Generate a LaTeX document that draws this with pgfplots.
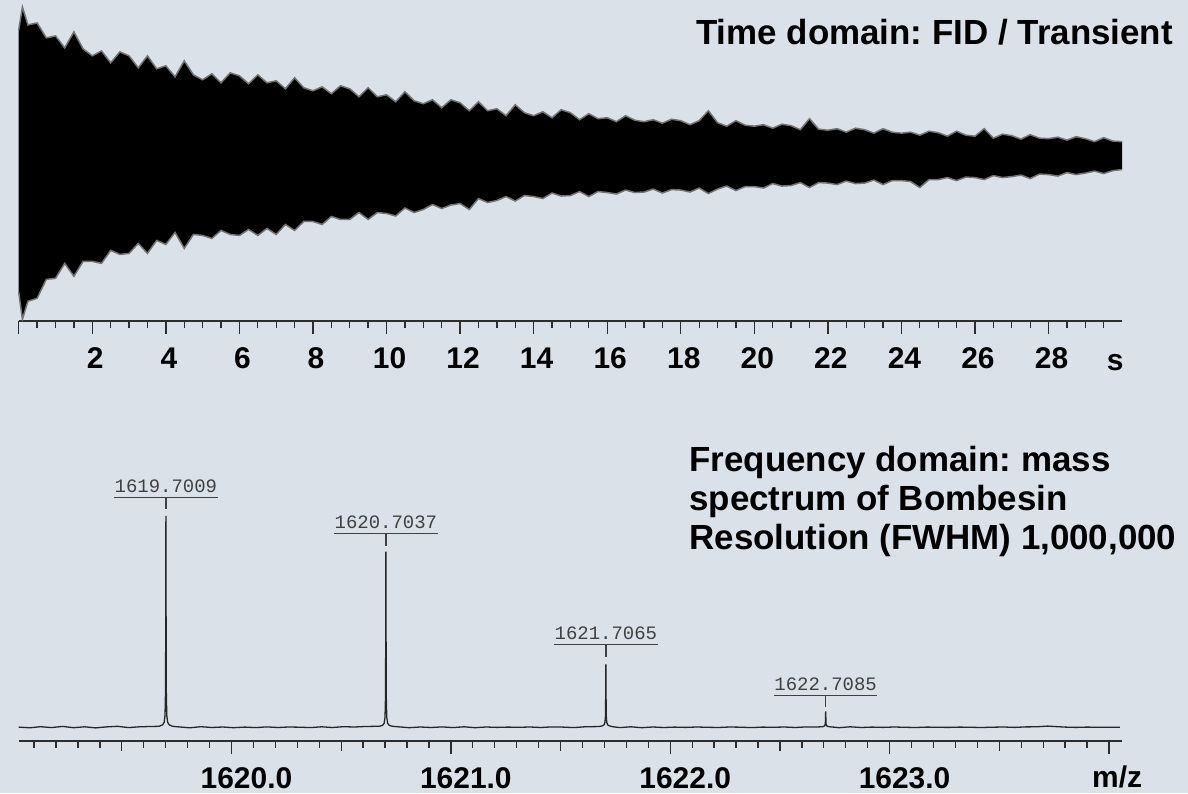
\documentclass[border=0pt]{standalone}
\usepackage{fontspec}
\setmainfont{Liberation Sans}
\newfontfamily\monof{Liberation Mono}
\usepackage{pgfplots}
\pgfplotsset{compat=1.18}
\usepgfplotslibrary{fillbetween}
\definecolor{bgc}{RGB}{218,225,232}
\definecolor{axc}{RGB}{45,45,45}
\frenchspacing
\begin{document}
\pagecolor{bgc}
\begin{tikzpicture}[x=1pt,y=1pt]
\path (0,0) rectangle (1188,795);
% ---------- time domain ----------
\begin{axis}[at={(16pt,473pt)}, anchor=south west, scale only axis,
  width=1106pt, height=322pt, xmin=0, xmax=30, ymin=-165, ymax=157,
  axis x line=bottom, axis y line=none, clip=false,
  axis line style={draw=axc, line width=1.6pt, -},
  xtick={0,2,...,28}, xticklabels={,2,4,6,8,10,12,14,16,18,20,22,24,26,28},
  minor xtick={0.5,1,...,29.5},
  tick align=outside, major tick length=13pt, minor tick length=6.5pt,
  every tick/.style={draw=axc, line width=1.3pt},
  xticklabel style={font=\bfseries\fontsize{30}{36}\selectfont, anchor=base, inner sep=0pt, yshift=-34pt, xshift=3pt},
  ]
\addplot[name path=top, draw=black!55, line width=1.5pt] coordinates {
(0,127)(0.1,150)(0.25,132)(0.5,134)(0.75,119)(1,121)(1.25,109)(1.5,125)(1.75,108)(2,101)(2.25,106)(2.5,94)(2.75,105)(3,101)(3.25,89)(3.5,101)(3.75,88)(4,91)(4.25,80)(4.5,96)(4.75,82)(5,77)(5.25,83)(5.5,74)(5.75,84)(6,81)(6.25,73)(6.5,82)(6.75,74)(7,76)(7.25,68)(7.5,79)(7.75,69)(8,66)(8.25,70)(8.5,63)(8.75,71)(9,68)(9.25,60)(9.5,69)(9.75,60)(10,62)(10.25,55)(10.5,65)(10.75,56)(11,53)(11.25,57)(11.5,49)(11.75,57)(12,54)(12.25,46)(12.5,55)(12.75,46)(13,48)(13.25,41)(13.5,52)(13.75,44)(14,41)(14.25,45)(14.5,39)(14.75,47)(15,44)(15.25,37)(15.5,43)(15.75,38)(16,39)(16.25,35)(16.5,41)(16.75,36.5)(17,35)(17.25,37)(17.5,33.5)(17.75,37.5)(18,36)(18.25,32)(18.5,36)(18.75,46)(19,34)(19.25,30.5)(19.5,36)(19.75,31.5)(20,30.5)(20.25,32)(20.5,28.5)(20.75,32.5)(21,31)(21.25,27)(21.5,38)(21.75,27.5)(22,26.5)(22.25,28)(22.5,24.5)(22.75,28.5)(23,27)(23.25,23.5)(23.5,28)(23.75,24.5)(24,23.5)(24.25,24.5)(24.5,21.5)(24.75,25.5)(25,24)(25.25,20.5)(25.5,25.5)(25.75,21.5)(26,20.5)(26.25,28)(26.5,18.5)(26.75,22.5)(27,21)(27.25,17.5)(27.5,22)(27.75,18.5)(28,18)(28.25,19.5)(28.5,16.5)(28.75,20)(29,18)(29.25,15)(29.5,19)(29.75,15.5)(30,15)
};
\addplot[name path=bot, draw=black!55, line width=1.5pt] coordinates {
(0,-136)(0.1,-163)(0.25,-145)(0.5,-142)(0.75,-123)(1,-122)(1.25,-107)(1.5,-120)(1.75,-105)(2,-105)(2.25,-107)(2.5,-94)(2.75,-98)(3,-97)(3.25,-87)(3.5,-97)(3.75,-84)(4,-88)(4.25,-76)(4.5,-92)(4.75,-78)(5,-79)(5.25,-82)(5.5,-74)(5.75,-78)(6,-79)(6.25,-73)(6.5,-79)(6.75,-72)(7,-78)(7.25,-68)(7.5,-74)(7.75,-65)(8,-65)(8.25,-68)(8.5,-60)(8.75,-63)(9,-63)(9.25,-56)(9.5,-63)(9.75,-56)(10,-57)(10.25,-59.5)(10.5,-51.5)(10.75,-56)(11,-53)(11.25,-48)(11.5,-52)(11.75,-48.5)(12,-47)(12.25,-53)(12.5,-42)(12.75,-46)(13,-44)(13.25,-40)(13.5,-44.5)(13.75,-39)(14,-40)(14.25,-42)(14.5,-36.5)(14.75,-39.5)(15,-39)(15.25,-35)(15.5,-40)(15.75,-35)(16,-36)(16.25,-37.5)(16.5,-33.5)(16.75,-36)(17,-35.5)(17.25,-32.5)(17.5,-36.5)(17.75,-33)(18,-33.5)(18.25,-35.5)(18.5,-31.5)(18.75,-37)(19,-32.5)(19.25,-29.5)(19.5,-34)(19.75,-30)(20,-30)(20.25,-31.5)(20.5,-27)(20.75,-29.5)(21,-29)(21.25,-26)(21.5,-31)(21.75,-26)(22,-26.5)(22.25,-28)(22.5,-24.5)(22.75,-27)(23,-26.5)(23.25,-23.5)(23.5,-28)(23.75,-24)(24,-24)(24.25,-25)(24.5,-31)(24.75,-23)(25,-23)(25.25,-21)(25.5,-24)(25.75,-20.5)(26,-21)(26.25,-23)(26.5,-19)(26.75,-21)(27,-20)(27.25,-18.5)(27.5,-22)(27.75,-17.5)(28,-18)(28.25,-19.5)(28.5,-16)(28.75,-18)(29,-16.5)(29.25,-14.5)(29.5,-17)(29.75,-14)(30,-13)
};
\addplot[black] fill between[of=top and bot];
\end{axis}
% ---------- frequency domain ----------
\begin{axis}[at={(16pt,52pt)}, anchor=south west, scale only axis,
  width=1106pt, height=283pt, xmin=1619.03, xmax=1624.06, ymin=-14, ymax=269,
  axis x line=bottom, axis y line=none, clip=false,
  axis line style={draw=axc, line width=1.6pt, -},
  xtick={1620,1621,1622,1623,1624}, xticklabels={1620.0,1621.0,1622.0,1623.0,},
  minor xtick={1619.1,1619.2,1619.3,1619.4,1619.5,1619.6,1619.7,1619.8,1619.9,1620.1,1620.2,1620.3,1620.4,1620.5,1620.6,1620.7,1620.8,1620.9,1621.1,1621.2,1621.3,1621.4,1621.5,1621.6,1621.7,1621.8,1621.9,1622.1,1622.2,1622.3,1622.4,1622.5,1622.6,1622.7,1622.8,1622.9,1623.1,1623.2,1623.3,1623.4,1623.5,1623.6,1623.7,1623.8,1623.9},
  extra x ticks={1619.5,1620.5,1621.5,1622.5,1623.5}, extra x tick labels={},
  extra x tick style={major tick length=10pt},
  tick align=outside, major tick length=13pt, minor tick length=7pt,
  every tick/.style={draw=axc, line width=1.3pt},
  xticklabel style={font=\bfseries\fontsize{30}{36}\selectfont, anchor=base, inner sep=0pt, yshift=-34pt, xshift=15pt},
  ]
\addplot[black!85, line width=1.3pt] coordinates {
(1619.03,0.2)(1619.08,-0.5)(1619.13,0.6)(1619.18,-0.3)(1619.23,0.9)(1619.28,-0.4)(1619.33,0.5)(1619.38,-0.6)(1619.43,0.4)(1619.48,1.0)(1619.53,-0.3)(1619.58,0.5)(1619.63,0.8)(1619.67,1.0)
(1619.6859,2.5)(1619.6929,5)(1619.6969,12)(1619.6994,40)(1619.7009,212)(1619.7024,40)(1619.7049,12)(1619.7089,5)(1619.7159,2.5)(1619.7309,1)
(1619.76,0.4)(1619.81,-0.5)(1619.86,0.6)(1619.91,-0.2)(1619.96,0.3)(1620.01,-0.4)(1620.06,0.2)(1620.11,-0.3)(1620.16,0.4)(1620.21,-0.2)(1620.26,0.3)(1620.31,0.1)(1620.36,-0.3)(1620.41,0.5)(1620.46,-0.2)(1620.51,0.6)(1620.56,0.3)(1620.61,0.8)(1620.66,1.0)
(1620.6737,1.0)(1620.6887,2)(1620.6957,4)(1620.6997,10)(1620.7022,33)(1620.7037,176)(1620.7052,33)(1620.7077,10)(1620.7117,4)(1620.7187,2)(1620.7337,1)
(1620.76,0.5)(1620.81,-0.4)(1620.86,0.3)(1620.91,-0.2)(1620.96,0.4)(1621.01,-0.3)(1621.06,0.5)(1621.11,-0.4)(1621.16,0.3)(1621.21,-0.1)(1621.26,0.2)(1621.31,0.0)(1621.36,0.3)(1621.41,-0.2)(1621.46,0.4)(1621.51,0.2)(1621.56,-0.3)(1621.61,0.5)(1621.66,0.7)
(1621.6765,0.8)(1621.6915,1.5)(1621.6985,2.5)(1621.7025,5)(1621.705,12)(1621.7065,63)(1621.708,12)(1621.7105,5)(1621.7145,2.5)(1621.7215,1.5)(1621.7365,0.6)
(1621.77,-0.3)(1621.82,0.5)(1621.87,-0.4)(1621.92,0.3)(1621.97,-0.2)(1622.02,0.2)(1622.07,-0.1)(1622.12,0.3)(1622.17,0.0)(1622.22,-0.2)(1622.27,0.3)(1622.32,0.1)(1622.37,-0.3)(1622.42,0.2)(1622.47,0.0)(1622.52,0.3)(1622.57,-0.2)(1622.62,0.4)(1622.67,0.3)
(1622.6935,0.6)(1622.7005,1)(1622.7045,1.8)(1622.707,4)(1622.7085,16)(1622.71,4)(1622.7125,1.8)(1622.7165,1)(1622.7235,0.6)(1622.7385,0.3)
(1622.77,-0.4)(1622.82,0.5)(1622.87,-0.2)(1622.92,0.2)(1622.97,-0.1)(1623.02,0.3)(1623.07,0.0)(1623.12,-0.2)(1623.17,0.2)(1623.22,0.0)(1623.27,-0.1)(1623.32,0.2)(1623.37,0.0)(1623.42,-0.2)(1623.47,0.1)(1623.52,0.3)(1623.57,-0.1)(1623.62,0.4)(1623.67,0.5)(1623.72,1.2)(1623.75,0.8)(1623.80,0.2)(1623.85,-0.1)(1623.90,0.2)(1623.95,0.0)(1624.00,0.1)(1624.05,0.0)
};
% peak annotations
\begin{scope}[black!75, line width=1.3pt]
\draw (axis cs:1619.4649,230) -- (axis cs:1619.9369,230);
\draw (axis cs:1619.7009,230) -- (axis cs:1619.7009,219);
\draw (axis cs:1620.4677,194) -- (axis cs:1620.9397,194);
\draw (axis cs:1620.7037,194) -- (axis cs:1620.7037,182);
\draw (axis cs:1621.4705,83) -- (axis cs:1621.9425,83);
\draw (axis cs:1621.7065,83) -- (axis cs:1621.7065,70);
\draw (axis cs:1622.4725,32) -- (axis cs:1622.9445,32);
\draw (axis cs:1622.7085,32) -- (axis cs:1622.7085,20);
\end{scope}
\begin{scope}[every node/.style={font=\monof\fontsize{19}{19}\selectfont, text=black!75, anchor=base, inner sep=0pt}]
\node at (axis cs:1619.7009,235) {1619.7009};
\node at (axis cs:1620.7037,199) {1620.7037};
\node at (axis cs:1621.7065,88) {1621.7065};
\node at (axis cs:1622.7085,37) {1622.7085};
\end{scope}
\end{axis}
% ---------- texts ----------
\node[anchor=base east, inner sep=0pt, font=\bfseries\fontsize{35}{40}\selectfont] at (1173,750) {Time domain: FID / Transient};
\begin{scope}[every node/.style={anchor=base west, inner sep=0pt, font=\bfseries\fontsize{35}{40}\selectfont}]
\node at (688,322) {Frequency domain: mass};
\node at (688,283) {spectrum of Bombesin};
\node at (688,244) {Resolution (FWHM) 1,000,000};
\end{scope}
\node[anchor=base, inner sep=0pt, font=\bfseries\fontsize{30}{36}\selectfont] at (1115,424) {s};
\node[anchor=base, inner sep=0pt, font=\bfseries\fontsize{30}{36}\selectfont] at (1117,6) {m/z};
\pgfresetboundingbox
\useasboundingbox (0,0) rectangle (1188,795);
\end{tikzpicture}
\end{document}
